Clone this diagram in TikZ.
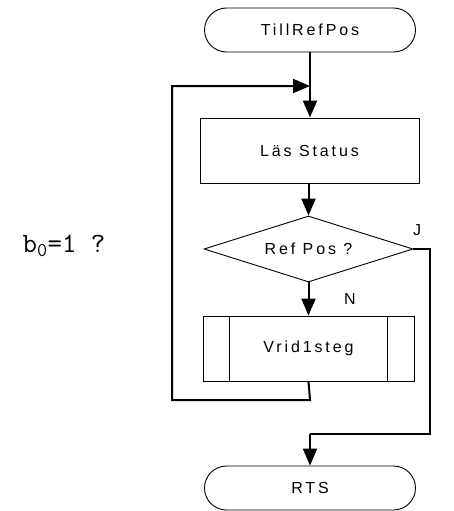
\documentclass[tikz,border=0pt]{standalone}
\usepackage{fontspec}
\setmainfont{Liberation Sans}
\newfontfamily\spacedfont[LetterSpace=18]{Liberation Sans}
\usetikzlibrary{shapes.geometric,arrows.meta}
\begin{document}
\begin{tikzpicture}[x=1pt,y=-1pt,
  base/.style={draw,line width=0.9pt,inner sep=0pt,font=\fontsize{16}{19}\spacedfont},
  term/.style={base,rectangle,rounded corners=22pt,minimum width=211pt,minimum height=44pt},
  procbox/.style={base,rectangle,minimum width=219pt,minimum height=65pt},
  subbox/.style={base,rectangle,minimum width=211pt,minimum height=65pt},
  decision/.style={base,diamond,shape aspect=3.17,minimum width=209pt,minimum height=66pt},
  conn/.style={line width=2pt},
  arr/.style={conn,-{Triangle[width=14pt,length=17pt]}},
  lbl/.style={font=\fontsize{16}{19}\selectfont}]
\useasboundingbox (0,0) rectangle (453,511);
\node[term] (start) at (310,30) {TillRefPos};
\node[procbox] (las) at (309.5,150.5) {Läs Status};
\node[decision] (dia) at (308.5,249) {Ref Pos ?};
\node[subbox] (sub) at (308.5,348.5) {Vrid1steg};
\node[term] (rts) at (310,488) {RTS};
\draw[line width=0.9pt] ([xshift=27pt]sub.north west) -- ([xshift=27pt]sub.south west);
\draw[line width=0.9pt] ([xshift=-27pt]sub.north east) -- ([xshift=-27pt]sub.south east);
\node[font=\fontsize{28}{32}\ttfamily] (cond) at (64,246) {b\textsubscript{0}=1 ?};
\node[lbl] (jlbl) at (417,230) {J};
\node[lbl] (nlbl) at (350,299) {N};
\coordinate (merge) at (310,86);
\coordinate (lb1) at (310,400);
\coordinate (lb2) at (172,400);
\coordinate (lb3) at (172,86);
\coordinate (jr1) at (430,249);
\coordinate (jr2) at (430,434);
\coordinate (jr3) at (310,434);
\draw[arr] (start.south) -- (start.south |- las.north);
\draw[arr] (las.south -| dia.north) -- (dia.north);
\draw[arr] (dia.south) -- (sub.north);
\draw[conn] (sub.south) -- (lb1) -- (lb2) -- (lb3) [arr] -- (merge);
\draw[conn] (dia.east) -- (jr1) -- (jr2) -- (jr3);
\draw[arr] (jr3) -- (rts.north -| jr3);
\end{tikzpicture}
\end{document}
